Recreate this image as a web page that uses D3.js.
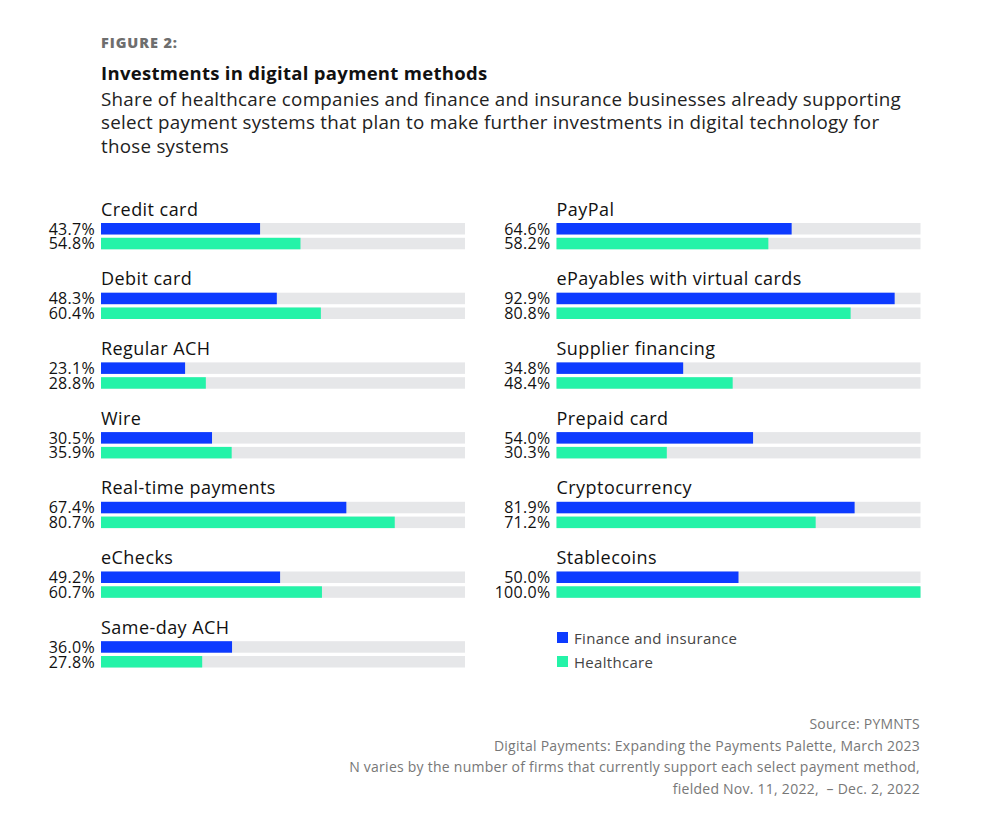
<!DOCTYPE html>
<html>
<head>
<meta charset="utf-8">
<script src="https://cdn.jsdelivr.net/npm/d3@7"></script>
<style>
  body { margin: 0; background: #fff; }
  svg { display: block; font-family: "Open Sans", sans-serif; }
  text { white-space: pre; }
</style>
</head>
<body>
<svg id="chart" width="996" height="840"></svg>
<script>
'use strict';

// left column
const leftCategories = ["Credit card", "Debit card", "Regular ACH", "Wire", "Real-time payments", "eChecks", "Same-day ACH"];
const leftFinance = [43.7, 48.3, 23.1, 30.5, 67.4, 49.2, 36.0];
const leftHealth = [54.8, 60.4, 28.8, 35.9, 80.7, 60.7, 27.8];

// right column
const rightCategories = ["PayPal", "ePayables with virtual cards", "Supplier financing", "Prepaid card", "Cryptocurrency", "Stablecoins"];
const rightFinance = [64.6, 92.9, 34.8, 54.0, 81.9, 50.0];
const rightHealth = [58.2, 80.8, 48.4, 30.3, 71.2, 100.0];

const seriesNames = ["Finance and insurance", "Healthcare"];
const footnotes = [
    "Source: PYMNTS",
    "Digital Payments: Expanding the Payments Palette, March 2023",
    "N varies by the number of firms that currently support each select payment method,",
    "fielded Nov. 11, 2022,  \u2013 Dec. 2, 2022"
];

const _blue = "#0d3bff";
const _green = "#24f3a8";
const _track = "#e6e7e9";

const svg = d3.select("#chart");

// header
svg.append("text").attr("x", 101).attr("y", 48)
    .style("font-size", "14.5px").style("font-weight", 800).style("letter-spacing", "0.9px")
    .style("fill", "#6e6e6e")
    .text("FIGURE 2:");
svg.append("text").attr("x", 101).attr("y", 80)
    .style("font-size", "18.5px").style("font-weight", 700).style("letter-spacing", "0.3px")
    .style("fill", "#111")
    .text("Investments in digital payment methods");
const subtitle = [
    "Share of healthcare companies and finance and insurance businesses already supporting",
    "select payment systems that plan to make further investments in digital technology for",
    "those systems"
];
subtitle.forEach(function (line, i) {
    svg.append("text").attr("x", 101).attr("y", 105.5 + i * 23.5)
        .style("font-size", "18.8px").style("letter-spacing", "0.25px").style("fill", "#222")
        .text(line);
});

// row position: index -> top of blue bar
const rowY = d3.scaleLinear().domain([0, 1]).range([223, 292.7]);

function drawColumn(x0, categories, finance, health) {
    const x = d3.scaleLinear().domain([0, 100]).range([x0, x0 + 364]);
    const g = svg.append("g");

    categories.forEach(function (name, i) {
        const y = rowY(i);
        g.append("text").attr("x", x(0)).attr("y", y - 7.5)
            .style("font-size", "18px").style("letter-spacing", "0.45px").style("fill", "#111")
            .text(name);

        [finance[i], health[i]].forEach(function (v, j) {
            const by = y + j * 14.8;
            g.append("rect").attr("x", x(0)).attr("y", by)
                .attr("width", x(100) - x(0)).attr("height", 11.5)
                .attr("fill", _track);
            g.append("rect").attr("x", x(0)).attr("y", by)
                .attr("width", x(v) - x(0)).attr("height", 11.5)
                .attr("fill", j === 0 ? _blue : _green);
            g.append("text").attr("x", x(0) - 6).attr("y", by + 11.5)
                .attr("text-anchor", "end")
                .style("font-size", "16px").style("letter-spacing", "0.3px").style("fill", "#111")
                .text(v.toFixed(1) + "%");
        });
    });
}

drawColumn(101, leftCategories, leftFinance, leftHealth);
drawColumn(556.5, rightCategories, rightFinance, rightHealth);

// legend
const legend = svg.append("g");
seriesNames.forEach(function (name, i) {
    legend.append("rect").attr("x", 557).attr("y", 632 + i * 24)
        .attr("width", 11).attr("height", 11)
        .attr("fill", i === 0 ? _blue : _green);
    legend.append("text").attr("x", 574).attr("y", 643.5 + i * 24)
        .style("font-size", "15px").style("letter-spacing", "0.3px").style("fill", "#444")
        .text(name);
});

// footnotes
footnotes.forEach(function (line, i) {
    svg.append("text").attr("x", 920).attr("y", 729 + i * 21.5)
        .attr("text-anchor", "end")
        .style("font-size", "14px").style("letter-spacing", "0.25px").style("fill", "#777")
        .text(line);
});
</script>
</body>
</html>
